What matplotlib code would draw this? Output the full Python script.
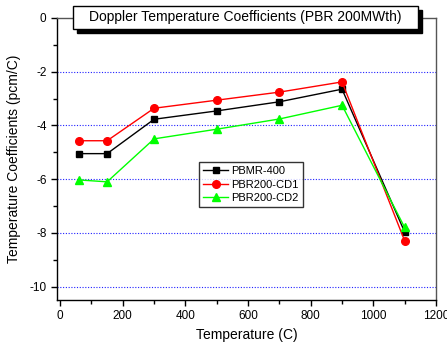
import numpy as np
import matplotlib.pyplot as plt
from matplotlib.patches import Rectangle

plt.rcParams['font.family'] = ['Liberation Sans', 'DejaVu Sans']
plt.rcParams['axes.unicode_minus'] = False

temp = [60, 150, 300, 500, 700, 900, 1100]
pbmr400 = [-5.05, -5.05, -3.77, -3.46, -3.12, -2.65, -7.97]
cd1 = [-4.57, -4.57, -3.36, -3.06, -2.76, -2.38, -8.3]
cd2 = [-6.03, -6.1, -4.5, -4.14, -3.76, -3.25, -7.8]

fig = plt.figure(figsize=(4.47, 3.46), dpi=100)
ax = fig.add_axes([57/447, 1-300/346, (436-57)/447, (300-18)/346])

for yv in [-2, -4, -6, -8, -10]:
    ax.axhline(yv, color='#2020ff', ls=(0, (1, 1.5)), lw=0.8, zorder=1)

ax.plot(temp, pbmr400, color='black', marker='s', ms=5, lw=1, label='PBMR-400', zorder=3)
ax.plot(temp, cd1, color='red', marker='o', ms=5.5, lw=1, label='PBR200-CD1', zorder=3)
ax.plot(temp, cd2, color='#00ff00', marker='^', ms=6, lw=1, label='PBR200-CD2', zorder=3)

ax.set_xlim(-10, 1200)
ax.set_ylim(-10.5, 0)
ax.set_xticks(np.arange(0, 1201, 200))
ax.set_xticks(np.arange(100, 1200, 200), minor=True)
ax.set_yticks(np.arange(-10, 1, 2))
ax.set_yticks(np.arange(-9, 0, 2), minor=True)
ax.tick_params(which='both', direction='out', labelsize=8.5, width=1)
ax.tick_params(which='major', length=4)
ax.tick_params(which='minor', length=3)
for s in ax.spines.values():
    s.set_linewidth(1)
ax.spines['right'].set_color('#555555')
ax.spines['top'].set_color('#555555')

ax.set_xlabel('Temperature (C)', fontsize=10)
ax.set_ylabel('Temperature Coefficients (pcm/C)', fontsize=10, labelpad=6)

leg = ax.legend(loc='upper left', bbox_to_anchor=(0.36, 0.51), fontsize=8, frameon=True,
                fancybox=False, edgecolor='black', handlelength=2.2, borderpad=0.4,
                labelspacing=0.3, handletextpad=0.3)
leg.get_frame().set_linewidth(1)

# title box with shadow
fig.patches.append(Rectangle((77/447, 1-33/346), (418-73)/447, 23/346, transform=fig.transFigure,
                             facecolor='black', edgecolor='black', zorder=4))
fig.patches.append(Rectangle((73/447, 1-29/346), (418-73)/447, 23/346, transform=fig.transFigure,
                             facecolor='white', edgecolor='black', lw=1, zorder=5))
fig.text((73+418)/2/447, 1-17.5/346, 'Doppler Temperature Coefficients (PBR 200MWth)',
         ha='center', va='center', fontsize=10, zorder=6)

fig.savefig('out.png', dpi=100)
